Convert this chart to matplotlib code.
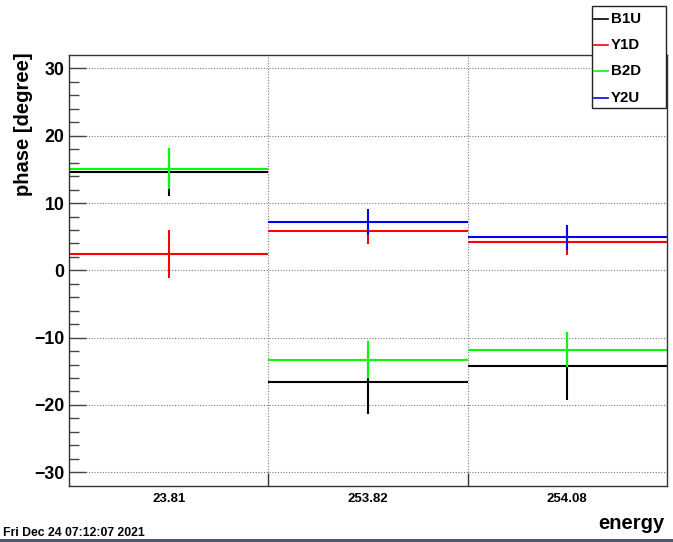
import numpy as np
import matplotlib
matplotlib.use("Agg")
import matplotlib.pyplot as plt
from matplotlib.lines import Line2D
from matplotlib.patches import Rectangle
from matplotlib.ticker import FixedLocator

plt.rcParams['font.family'] = ['Liberation Sans', 'DejaVu Sans']
plt.rcParams['font.weight'] = 'bold'

# energy bins
energies = ["23.81", "253.82", "254.08"]

# phase per ring/detector, NaN = empty bin
b1u = [14.62, -16.58, -14.26]
b1u_err = [3.52, 4.76, 5.05]
y1d = [2.38, 5.86, 4.22]
y1d_err = [3.55, 2.0, 2.0]
b2d = [15.12, -13.27, -11.78]
b2d_err = [3.0, 2.72, 2.57]
y2u = [np.nan, 7.22, 4.90]
y2u_err = [np.nan, 1.9, 1.9]

series = [("B1U", b1u, b1u_err, "black"),
          ("Y1D", y1d, y1d_err, "#ff0000"),
          ("B2D", b2d, b2d_err, "#00ff00"),
          ("Y2U", y2u, y2u_err, "#0000ff")]

fig = plt.figure(figsize=(6.73, 5.42), dpi=100)
ax = fig.add_axes([0.103, 0.1039, 0.8875, 0.7946])

xc = np.arange(len(energies)) + 0.5
for name, vals, errs, col in series:
    ax.errorbar(xc, vals, xerr=0.5, yerr=errs, fmt='none', ecolor=col,
                elinewidth=1.5, capsize=0)

ax.set_xlim(0, len(energies))
ax.set_ylim(-32, 32)

# x: labels at bin centres, ticks at bin edges
ax.set_xticks(xc)
ax.set_xticklabels(energies, fontsize=9.5, fontweight='bold')
ax.xaxis.set_minor_locator(FixedLocator(np.arange(1, len(energies))))
ax.tick_params(axis='x', which='major', length=0, pad=5.5)
ax.tick_params(axis='x', which='minor', direction='in', length=9.4,
               width=1.0, color='#333333')

# y: major every 10, minor every 2
ax.set_yticks(np.arange(-30, 31, 10))
ax.yaxis.set_minor_locator(FixedLocator(np.arange(-30, 31, 2)))
ax.tick_params(axis='y', which='major', direction='in', length=12.2,
               width=1.0, color='#444444', labelsize=12.8, pad=3.6)
ax.tick_params(axis='y', which='minor', direction='in', length=7.2,
               width=1.0, color='#444444')
for lab in ax.get_yticklabels():
    lab.set_fontweight('bold')

ax.grid(True, which='major', axis='y', linestyle=(0, (1, 1.5)),
        color='#777777', linewidth=0.8)
ax.grid(True, which='minor', axis='x', linestyle=(0, (1, 1.5)),
        color='#777777', linewidth=0.8)
ax.set_axisbelow(True)

for sp in ax.spines.values():
    sp.set_color('#333333')
    sp.set_linewidth(1.0)

ax.set_ylabel("phase [degree]", fontsize=14.5, fontweight='bold', loc='top')
ax.yaxis.set_label_coords(-0.0766, 1.005)
ax.yaxis.label.set_va('center')
ax.set_xlabel("energy", fontsize=14.5, fontweight='bold', loc='right')
ax.xaxis.set_label_coords(0.9967, -0.1005)
ax.xaxis.label.set_va('baseline')

# legend box in the top right corner
W, H = 673.0, 542.0
fig.patches.append(Rectangle((592 / W, 1 - 108 / H), 74 / W, 102 / H,
                             transform=fig.transFigure, facecolor='white',
                             edgecolor='#222222', linewidth=1.0, zorder=5))
row_y = [18.7, 45.0, 71.0, 98.0]
for (name, vals, errs, col), ry in zip(series, row_y):
    fy = 1 - ry / H
    fig.lines.append(Line2D([594 / W, 608 / W], [fy, fy], color=col,
                            linewidth=1.2, transform=fig.transFigure,
                            zorder=6))
    fig.text(611 / W, fy, name, fontsize=10.8, fontweight='bold',
             va='center', ha='left', zorder=6)

fig.text(0.004, 1 - 536 / H, "Fri Dec 24 07:12:07 2021", fontsize=8.8,
         fontweight='bold', va='baseline', ha='left')

# window border strip at the bottom
fig.patches.append(Rectangle((0, 0), 1, 3 / H, transform=fig.transFigure,
                             facecolor='#4c5b6e', edgecolor='none', zorder=7))

fig.savefig("out.png", dpi=100)
